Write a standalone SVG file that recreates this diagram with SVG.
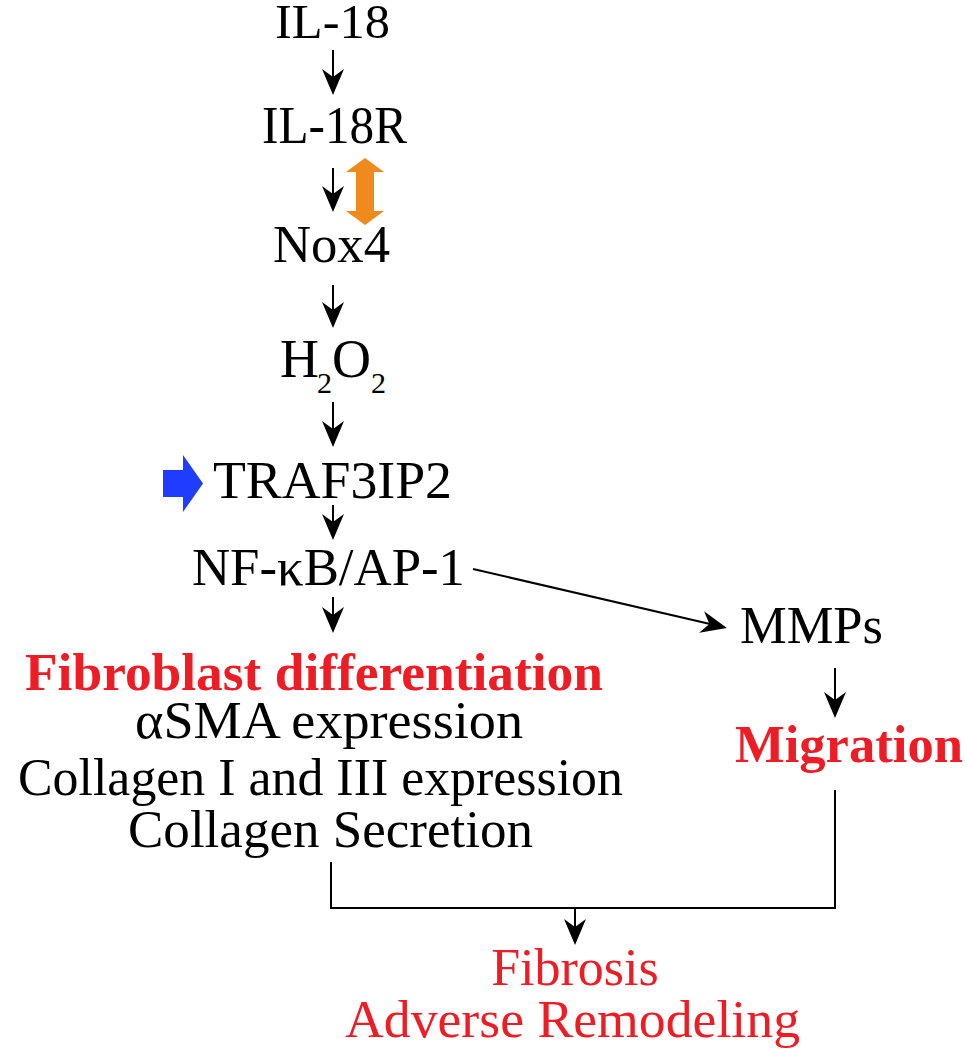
<svg xmlns="http://www.w3.org/2000/svg" width="966" height="1050" viewBox="0 0 966 1050">
<style>
.t{font-family:"Liberation Serif","Times New Roman",serif;font-size:52px;fill:#000}
.r{fill:#EE1C25}
.b{font-weight:bold}
.c{stroke:#000;stroke-width:2;fill:none}
</style>
<defs>
<marker id="ah" markerUnits="userSpaceOnUse" markerWidth="32" markerHeight="26" viewBox="-27 -13 30 26" refX="-14" refY="0" orient="auto">
<path d="M0,0 L-26,-11 L-18,0 L-26,11 Z" fill="#000"/>
</marker>
</defs>
<rect width="966" height="1050" fill="#fff"/>
<g id="connectors">
<line class="c" x1="333" y1="50" x2="333" y2="81" marker-end="url(#ah)"/>
<line class="c" x1="333" y1="168" x2="333" y2="198" marker-end="url(#ah)"/>
<line class="c" x1="333" y1="285" x2="333" y2="314" marker-end="url(#ah)"/>
<line class="c" x1="333" y1="402" x2="333" y2="433" marker-end="url(#ah)"/>
<line class="c" x1="333" y1="505" x2="333" y2="526" marker-end="url(#ah)"/>
<line class="c" x1="333" y1="597" x2="333" y2="619" marker-end="url(#ah)"/>
<line class="c" x1="473" y1="569" x2="713.3" y2="624.8" marker-end="url(#ah)"/>
<line class="c" x1="835" y1="668" x2="835" y2="704" marker-end="url(#ah)"/>
<path class="c" d="M331,862 V908 H835 V790"/>
<line class="c" x1="575" y1="908" x2="575" y2="931" marker-end="url(#ah)"/>
</g>
<g id="il18"><text class="t" x="275" y="38" font-size="49" style="font-size:49px" textLength="115" lengthAdjust="spacingAndGlyphs">IL-18</text></g>
<g id="il18r"><text class="t" x="262" y="143" textLength="145" lengthAdjust="spacingAndGlyphs">IL-18R</text></g>
<g id="orange-arrow"><polygon fill="#F18A1C" points="365,158 384,172 374,172 374,211 384,211 365,225 346,211 356,211 356,172 346,172"/></g>
<g id="nox4"><text class="t" x="273" y="262" textLength="117" lengthAdjust="spacingAndGlyphs">Nox4</text></g>
<g id="h2o2"><text class="t" y="377"><tspan x="280" font-size="54" style="font-size:54px">H</tspan><tspan x="317" y="393" style="font-size:30px">2</tspan><tspan x="332" y="377" style="font-size:54px">O</tspan><tspan x="371" y="393" style="font-size:30px">2</tspan></text></g>
<g id="blue-arrow"><polygon fill="#1F3DFF" points="163,470 183,470 183,455 203,483.5 183,512 183,497 163,497"/></g>
<g id="traf3ip2"><text class="t" x="213" y="498" textLength="239" lengthAdjust="spacingAndGlyphs">TRAF3IP2</text></g>
<g id="nfkb"><text class="t" x="192" y="585" textLength="273" lengthAdjust="spacingAndGlyphs">NF-κB/AP-1</text></g>
<g id="mmps"><text class="t" x="740" y="643" textLength="143" lengthAdjust="spacingAndGlyphs">MMPs</text></g>
<g id="migration"><text class="t r b" x="735" y="762" textLength="228" lengthAdjust="spacingAndGlyphs">Migration</text></g>
<g id="fibroblast">
<text class="t r b" x="25" y="690" textLength="578" lengthAdjust="spacingAndGlyphs">Fibroblast differentiation</text>
<text class="t" x="135" y="738" textLength="388" lengthAdjust="spacingAndGlyphs">αSMA expression</text>
<text class="t" x="18" y="795" textLength="605" lengthAdjust="spacingAndGlyphs">Collagen I and III expression</text>
<text class="t" x="128" y="847" textLength="405" lengthAdjust="spacingAndGlyphs">Collagen Secretion</text>
</g>
<g id="fibrosis">
<text class="t r" x="575" y="985" text-anchor="middle">Fibrosis</text>
<text class="t r" x="345" y="1037" textLength="455" lengthAdjust="spacingAndGlyphs">Adverse Remodeling</text>
</g>
</svg>
